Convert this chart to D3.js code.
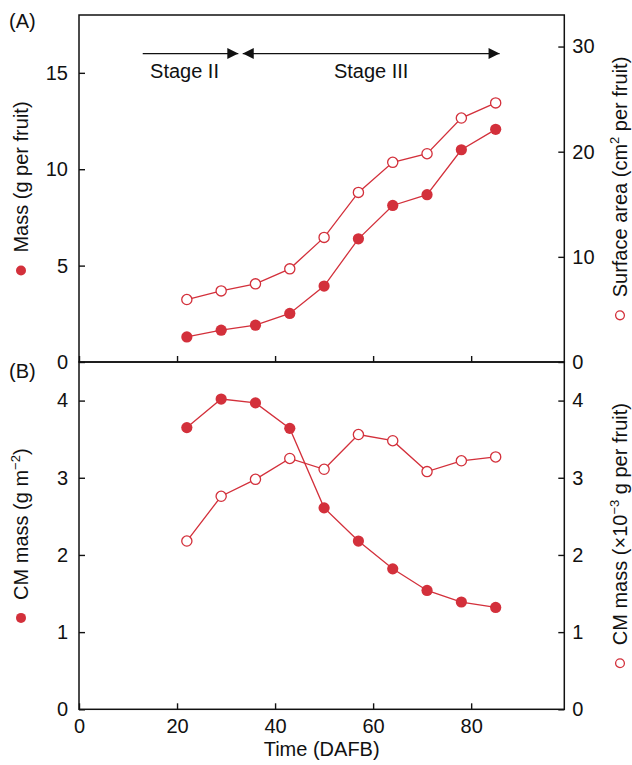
<!DOCTYPE html>
<html><head><meta charset="utf-8">
<script src="https://cdn.jsdelivr.net/npm/d3@7"></script>
<style>
body{margin:0;background:#fff}
text{font-family:"Liberation Sans",Arial,Helvetica,sans-serif;fill:#111}
</style>
</head><body>
<svg id="c" width="632" height="765"></svg>
<script>
// ---- data ----
const days = [22, 29, 36, 43, 50, 57, 64, 71, 78, 85];
const fruitMass = [1.30, 1.65, 1.91, 2.52, 3.94, 6.39, 8.12, 8.68, 11.01, 12.07];
const surfaceArea = [5.94, 6.76, 7.43, 8.86, 11.85, 16.13, 18.99, 19.81, 23.2, 24.64];
const cmMassPerArea = [3.65, 4.02, 3.97, 3.64, 2.61, 2.18, 1.82, 1.54, 1.39, 1.32];
const cmMassPerFruit = [2.18, 2.76, 2.98, 3.25, 3.11, 3.56, 3.48, 3.08, 3.22, 3.27];
const xTicks = [0, 20, 40, 60, 80];
const massTicks = [0, 5, 10, 15];
const areaTicks = [0, 10, 20, 30];
const cmTicks = [0, 1, 2, 3, 4];
const stageNames = ["Stage II", "Stage III"];
const stageStart = [13, 33.4];
const stageEnd = [32.5, 85.8];
const stageLevel = 16;

// ---- layout ----
const RED = "#d3303b";
const L = 79, R = 564.3, TA = 15, MID = 362, BB = 709.3;
const svg = d3.select("#c");
const fmt = d3.format("d");

const x = d3.scaleLinear().domain([0, 99]).range([L, R]);
const yMass = d3.scaleLinear().domain([0, 18]).range([MID, TA]);
const yArea = d3.scaleLinear().domain([0, 33]).range([MID, TA]);
const yCM = d3.scaleLinear().domain([0, 4.5]).range([BB, MID]);
const yCMF = d3.scaleLinear().domain([0, 4.5]).range([BB, MID]);

function styleAxis(g) {
  g.select(".domain").remove();
  g.selectAll("line").attr("stroke", "#111").attr("stroke-width", 1.4);
  g.selectAll("text").attr("font-size", 20).style("font-family", '"Liberation Sans",Arial,sans-serif').attr("fill", "#111");
}

// Panel A axes
svg.append("g").attr("transform", `translate(${L},0)`)
  .call(d3.axisLeft(yMass).tickValues(massTicks).tickFormat(fmt).tickSize(-6).tickPadding(11)).call(styleAxis);
svg.append("g").attr("transform", `translate(${R},0)`)
  .call(d3.axisRight(yArea).tickValues(areaTicks).tickFormat(fmt).tickSize(-6).tickPadding(8)).call(styleAxis);
svg.append("g").attr("transform", `translate(0,${MID})`)
  .call(d3.axisBottom(x).tickValues(xTicks).tickSize(-6).tickFormat("")).call(styleAxis);

// Panel B axes
svg.append("g").attr("transform", `translate(${L},0)`)
  .call(d3.axisLeft(yCM).tickValues(cmTicks).tickFormat(fmt).tickSize(-6).tickPadding(11)).call(styleAxis);
svg.append("g").attr("transform", `translate(${R},0)`)
  .call(d3.axisRight(yCMF).tickValues(cmTicks).tickFormat(fmt).tickSize(-6).tickPadding(8)).call(styleAxis);
svg.append("g").attr("transform", `translate(0,${BB})`)
  .call(d3.axisBottom(x).tickValues(xTicks).tickFormat(fmt).tickSize(-6).tickPadding(10)).call(styleAxis);

// frames
[[TA, MID], [MID, BB]].forEach(([t, b]) => {
  svg.append("rect").attr("x", L).attr("y", t).attr("width", R - L).attr("height", b - t)
    .attr("fill", "none").attr("stroke", "#111").attr("stroke-width", 1.5);
});

// series drawing
function series(yScale, vals, filled) {
  const pts = days.map((d, i) => [x(d), yScale(vals[i])]);
  svg.append("path").attr("d", d3.line()(pts)).attr("fill", "none")
    .attr("stroke", RED).attr("stroke-width", 1.3);
  svg.append("g").selectAll("circle").data(pts).join("circle")
    .attr("cx", p => p[0]).attr("cy", p => p[1])
    .attr("r", filled ? 5.6 : 5.1)
    .attr("fill", filled ? RED : "#fff")
    .attr("stroke", RED).attr("stroke-width", filled ? 0 : 1.3);
}
series(yArea, surfaceArea, false);
series(yMass, fruitMass, true);
series(yCMF, cmMassPerFruit, false);
series(yCM, cmMassPerArea, true);

// stage arrows
const ay = yMass(stageLevel);
function head(xTip, dir) {
  const len = 11, hw = 5.5;
  svg.append("path")
    .attr("d", `M${xTip},${ay} L${xTip - dir * len},${ay - hw} L${xTip - dir * len},${ay + hw} Z`)
    .attr("fill", "#111");
}
stageNames.forEach((name, i) => {
  const x0 = x(stageStart[i]), x1 = x(stageEnd[i]);
  svg.append("line").attr("x1", x0).attr("x2", x1).attr("y1", ay).attr("y2", ay)
    .attr("stroke", "#111").attr("stroke-width", 1.2);
  head(x1, 1);
  if (i > 0) head(x0, -1);
  svg.append("text").attr("x", i === 0 ? (x0 + x1) / 2 - 6 : (x0 + x1) / 2).attr("y", ay + 24)
    .attr("text-anchor", "middle").attr("font-size", 20).text(name);
});

// panel letters
svg.append("text").attr("x", 9).attr("y", 28).attr("font-size", 20).text("(A)");
svg.append("text").attr("x", 9).attr("y", 378).attr("font-size", 20).text("(B)");

// rotated axis titles with marker
function vLabel(cx, cy, parts, filled) {
  const g = svg.append("g").attr("transform", `translate(${cx},${cy}) rotate(-90)`);
  const t = g.append("text").attr("font-size", 20).attr("y", 7);
  parts.forEach(p => {
    const ts = t.append("tspan").text(p.t);
    if (p.sup) ts.attr("font-size", 13).attr("dy", -8);
    if (p.after) ts.attr("dy", 8);
  });
  const len = t.node().getComputedTextLength();
  const r = 5, gap = 13;
  const total = 2 * r + gap + len;
  g.append("circle").attr("cx", -total / 2 + r).attr("cy", 0).attr("r", filled ? r : 4.4)
    .attr("fill", filled ? RED : "#fff").attr("stroke", RED).attr("stroke-width", filled ? 0 : 1.3);
  t.attr("x", -total / 2 + 2 * r + gap);
}
vLabel(21, (TA + MID) / 2, [{t: "Mass (g per fruit)"}], true);
vLabel(620, (TA + MID) / 2, [{t: "Surface area (cm"}, {t: "2", sup: true}, {t: " per fruit)", after: true}], false);
vLabel(21, (MID + BB) / 2, [{t: "CM mass (g m"}, {t: "\u22122", sup: true}, {t: ")", after: true}], true);
vLabel(620, (MID + BB) / 2, [{t: "CM mass (\u00d710"}, {t: "\u22123", sup: true}, {t: " g per fruit)", after: true}], false);

// x title
svg.append("text").attr("x", (L + R) / 2).attr("y", 756).attr("text-anchor", "middle")
  .attr("font-size", 20).text("Time (DAFB)");
</script>
</body></html>
